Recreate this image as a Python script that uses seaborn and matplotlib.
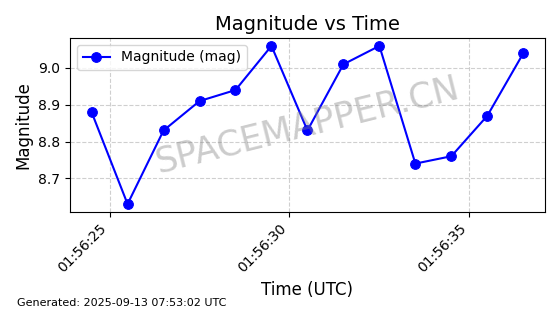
import matplotlib
matplotlib.use("Agg")
import matplotlib.pyplot as plt
import matplotlib.dates as mdates
import seaborn as sns
import pandas as pd

times = ["2025-09-13 01:56:24.5", "2025-09-13 01:56:25.5", "2025-09-13 01:56:26.5",
         "2025-09-13 01:56:27.5", "2025-09-13 01:56:28.5", "2025-09-13 01:56:29.5",
         "2025-09-13 01:56:30.5", "2025-09-13 01:56:31.5", "2025-09-13 01:56:32.5",
         "2025-09-13 01:56:33.5", "2025-09-13 01:56:34.5", "2025-09-13 01:56:35.5",
         "2025-09-13 01:56:36.5"]
magnitude = [8.88, 8.63, 8.83, 8.91, 8.94, 9.06, 8.83, 9.01, 9.06, 8.74, 8.76, 8.87, 9.04]

df = pd.DataFrame({"time": pd.to_datetime(times), "mag": magnitude})

plt.rcParams['font.family'] = ['DejaVu Sans']

fig, ax = plt.subplots(figsize=(5.6, 3.14), dpi=100)
sns.lineplot(data=df, x="time", y="mag", ax=ax, color="blue", marker="o",
             markersize=7, markeredgecolor="blue", linewidth=1.5,
             label="Magnitude (mag)")

ax.xaxis.set_major_locator(mdates.SecondLocator(bysecond=range(0, 60, 5)))
ax.xaxis.set_major_formatter(mdates.DateFormatter("%H:%M:%S"))
plt.setp(ax.get_xticklabels(), rotation=45, ha="right")

ax.grid(True, linestyle="--", alpha=0.6)
ax.set_title("Magnitude vs Time", fontsize=14)
ax.set_xlabel("Time (UTC)", fontsize=12)
ax.set_ylabel("Magnitude", fontsize=12)
ax.legend(loc="upper left")

ax.text(0.5, 0.5, "SPACEMAPPER.CN", transform=ax.transAxes, fontsize=25,
        color="gray", alpha=0.4, rotation=14, ha="center", va="center")

fig.text(0.03, 0.025, "Generated: 2025-09-13 07:53:02 UTC", fontsize=8)

fig.subplots_adjust(left=0.125, right=0.973, top=0.879, bottom=0.325)
fig.savefig("out.png", dpi=100)
